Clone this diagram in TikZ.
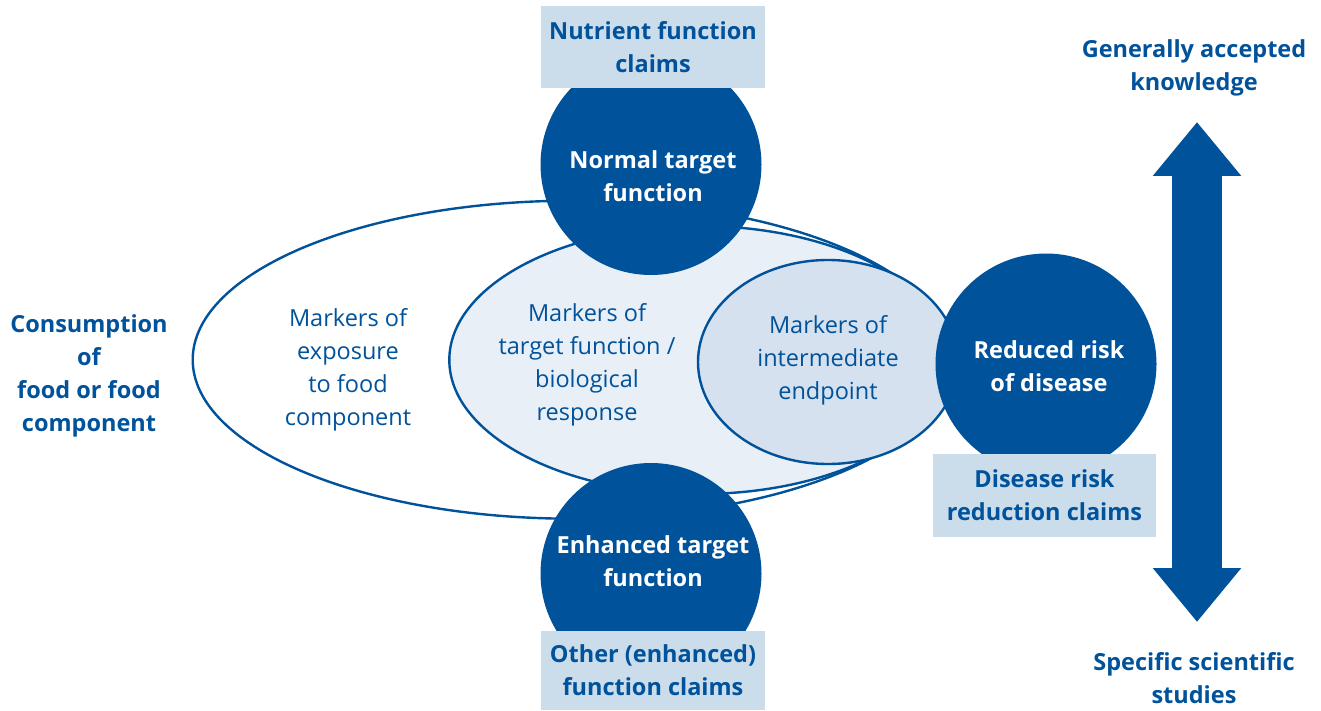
\documentclass[tikz,border=0pt]{standalone}
\usepackage{fontspec}
\setmainfont{Open Sans}
\usetikzlibrary{shapes.geometric,arrows.meta}
\definecolor{dblue}{RGB}{0,82,155}
\definecolor{boxblue}{RGB}{203,220,235}
\definecolor{midfill}{RGB}{233,239,247}
\definecolor{innfill}{RGB}{213,225,238}
\tikzset{
  ring/.style={ellipse, draw=dblue, line width=2.4pt, inner sep=0pt},
  bigdot/.style={circle, fill=dblue, minimum size=221pt, inner sep=0pt},
  claimbox/.style={fill=boxblue, inner sep=0pt},
  boldlbl/.style={text=dblue, align=center, inner sep=0pt, font=\fontsize{23.5}{33}\selectfont\bfseries},
  whitelbl/.style={text=white, align=center, inner sep=0pt, font=\fontsize{23.5}{33}\selectfont\bfseries},
  thinlbl/.style={text=dblue, align=center, inner sep=0pt, font=\fontsize{23.5}{33}\selectfont},
  bigarrow/.style={dblue, line width=50pt, {Triangle[width=85pt,length=54pt]}-{Triangle[width=85pt,length=54pt]}}
}
\begin{document}
\begin{tikzpicture}[x=1pt,y=-1pt]
\useasboundingbox (0,0) rectangle (1321,711);
% ellipses
\node[ring, fill=white, minimum width=760pt, minimum height=318pt] (outer) at (572.7,359.7) {};
\node[ring, fill=midfill, minimum width=500pt, minimum height=268pt] (middle) at (699.3,360) {};
\node[ring, fill=innfill, minimum width=260pt, minimum height=204pt] (inner) at (828,362) {};
% circles
\node[bigdot] (normal) at (651,164.5) {};
\node[bigdot] (enhanced) at (651,573.5) {};
\node[bigdot] (reduced) at (1046,364) {};
% claim boxes
\node[claimbox, minimum width=224pt, minimum height=82pt] (nutbox) at (653,47) {};
\node[claimbox, minimum width=224pt, minimum height=79pt] (othbox) at (653,670.5) {};
\node[claimbox, minimum width=223pt, minimum height=83pt] (disbox) at (1044.5,495.5) {};
% texts
\node[boldlbl] (nuttxt) at (nutbox) {Nutrient function\\claims};
\node[boldlbl] (othtxt) at (othbox) {Other (enhanced)\\function claims};
\node[boldlbl] (distxt) at (disbox) {Disease risk\\reduction claims};
\node[whitelbl] (normaltxt) at (653,176) {Normal target\\function};
\node[whitelbl] (enhtxt) at (653,561) {Enhanced target\\function};
\node[whitelbl] (redtxt) at (1049,366) {Reduced risk\\of disease};
\node[boldlbl] (cons) at (89,376) {Consumption\\of\\food or food\\component};
\node[boldlbl] (gen) at (1194,68) {Generally accepted\\knowledge};
\node[boldlbl] (spec) at (1194,678) {Specific scientific\\studies};
\node[thinlbl] (exptxt) at (348,370) {Markers of\\exposure\\to food\\component};
\node[thinlbl] (tgttxt) at (587,365) {Markers of\\target function /\\biological\\response};
\node[thinlbl] (inttxt) at (828,360) {Markers of\\intermediate\\endpoint};
% arrow
\coordinate (arrtop) at (1197,122);
\coordinate (arrbot) at (1197,622);
\draw[bigarrow] (arrtop) -- (arrbot);
\end{tikzpicture}
\end{document}
